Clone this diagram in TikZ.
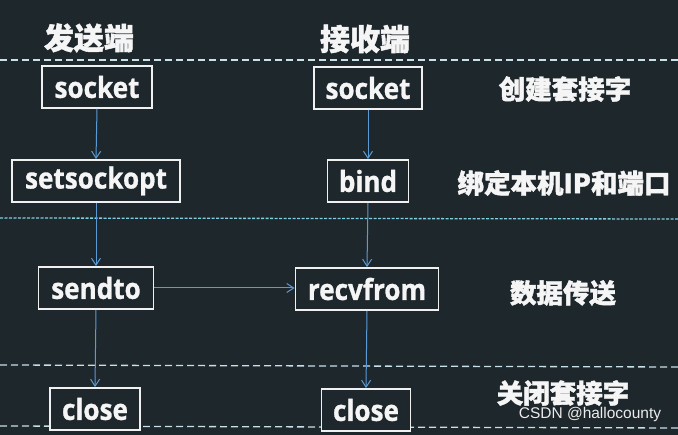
\documentclass[tikz,border=0pt]{standalone}
\usepackage{fontspec}
\setmainfont{Noto Sans CJK SC}[BoldFeatures={FakeBold=1.5}]
\newfontfamily\latinfont{Open Sans}[FakeStretch=0.9, BoldFeatures={FakeBold=1}]
\newfontfamily\wmfont{Liberation Sans}
\usetikzlibrary{arrows.meta}
\definecolor{bg}{HTML}{1E272C}
\definecolor{arrowblue}{HTML}{5B9BD5}
\definecolor{dashcol}{HTML}{C8E0E8}
\definecolor{cyandash}{HTML}{7FD0DC}
\tikzset{
  fn/.style={draw=white!88!gray, line width=1.8pt, fill=bg, text=white!92!gray,
    font=\latinfont\bfseries\fontsize{29}{31}\selectfont, inner sep=0pt, minimum height=42pt},
  flow/.style={draw=arrowblue, line width=1pt, -{Straight Barb[length=7pt,width=9pt,line width=1pt]}},
  head/.style={text=white!92!gray, font=\bfseries\fontsize{30}{32}\selectfont},
  lbl/.style={text=white!92!gray, font=\bfseries\fontsize{26.5}{28}\selectfont},
  sep/.style={draw=dashcol, line width=1.3pt, dash pattern=on 7pt off 4pt},
  sepc/.style={draw=cyandash, line width=1.3pt, dash pattern=on 3pt off 1.5pt},
}
\begin{document}
\begin{tikzpicture}[x=1pt,y=-1pt]
\fill[bg] (0,0) rectangle (678,435);
\useasboundingbox (0,0) rectangle (678,435);
% separators
\coordinate (s1a) at (0,60); \coordinate (s1b) at (678,60);
\coordinate (s2a) at (0,218); \coordinate (s2b) at (678,219);
\coordinate (s3a) at (0,365); \coordinate (s3b) at (678,367);
\coordinate (s4a) at (0,426); \coordinate (s4b) at (678,428);
\draw[sep] (s1a) -- (s1b);
\draw[sepc] (s2a) -- (s2b);
\draw[sep] (s3a) -- (s3b);
\draw[sep] (s4a) -- (s4b);
% headings
\node[head] (h1) at (89,38) {发送端};
\node[head] (h2) at (365,39) {接收端};
% function boxes
\node[fn, minimum width=110pt] (sock1) at (97,87) {socket};
\node[fn, minimum width=108pt] (sock2) at (368,88) {socket};
\node[fn, minimum width=168pt] (opt) at (96,181) {setsockopt};
\node[fn, minimum width=81pt] (bind) at (368,181) {bind};
\node[fn, minimum width=115pt] (send) at (96,288) {sendto};
\node[fn, minimum width=143pt] (recv) at (367,289) {recvfrom};
\node[fn, minimum width=90pt] (close1) at (95,409) {close};
\node[fn, minimum width=89pt] (close2) at (366,410) {close};
% right labels
\node[lbl] (l1) at (565,89) {创建套接字};
\node[lbl] (l2) at (564,183) {绑定本机IP和端口};
\node[lbl] (l3) at (563,293) {数据传送};
\node[lbl] (l4) at (563,393) {关闭套接字};
\node[text=white!85!gray, font=\wmfont\fontsize{15.5}{16}\selectfont] (wm) at (590,414) {CSDN @hallocounty};
% connectors
\draw[flow] (sock1.south) -- (opt.north);
\draw[flow] (sock2.south) -- (bind.north);
\draw[flow] (opt.south) -- (send.north);
\draw[flow] (bind.south) -- (recv.north);
\draw[flow] (send.east) -- (send.east -| recv.west);
\draw[flow] (send.south) -- (close1.north);
\draw[flow] (recv.south) -- (close2.north);
\end{tikzpicture}
\end{document}
